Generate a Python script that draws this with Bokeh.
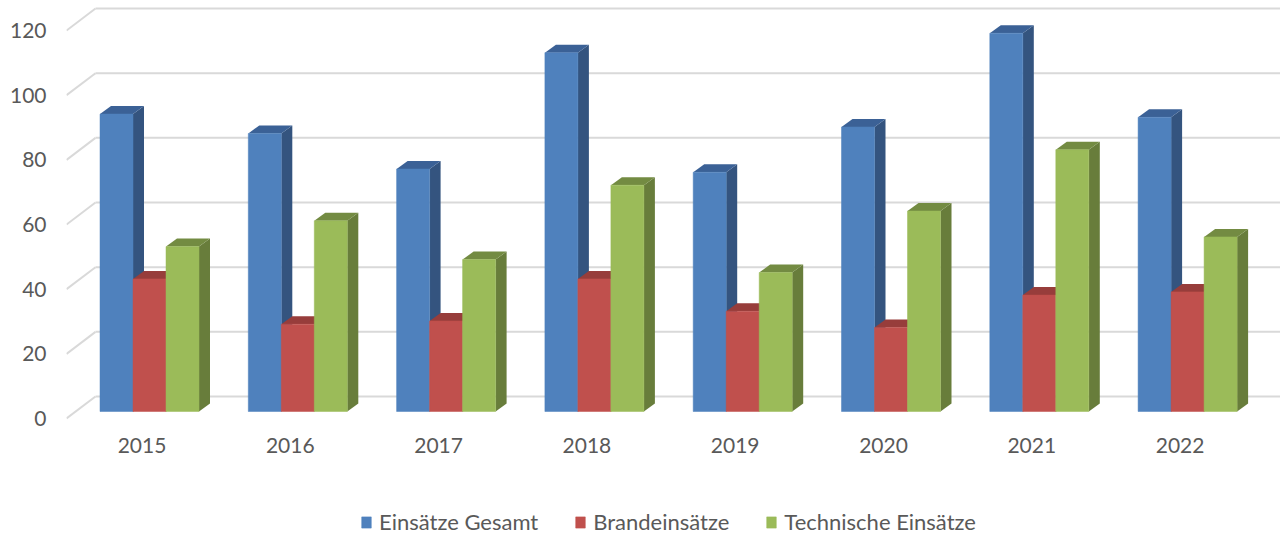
from bokeh.plotting import figure
from bokeh.models import Range1d, FixedTicker, NumeralTickFormatter, Legend, LegendItem, ColumnDataSource
from bokeh.embed import file_html
from bokeh.resources import INLINE

years = [2015, 2016, 2017, 2018, 2019, 2020, 2021, 2022]
gesamt = [92, 86, 75, 111, 74, 88, 117, 91]
brand = [41, 27, 28, 41, 31, 26, 36, 37]
technisch = [51, 59, 47, 70, 43, 62, 81, 54]
y_ticks = [0, 20, 40, 60, 80, 100, 120]
series_names = ["Einsätze Gesamt", "Brandeinsätze", "Technische Einsätze"]

# pixel geometry of the oblique projection
PX_X = 148.3        # px per year
PX_Y = 3.233        # px per value unit
FRAME_L, FRAME_R, FRAME_T, FRAME_B = 66, 1280, 0, 535
LABEL0_X = 141.5    # x of the 2015 label
ZERO_Y = 418        # y of value 0 on the front plane
BAR_W = 33 / PX_X
BAR_X0 = -42 / PX_X
DX = 11 / PX_X
DY = 8 / PX_Y
BASE = 7 / PX_Y
WALL_DX = 29 / PX_X
WALL_DY = 22 / PX_Y

x_start = 2015 + (FRAME_L - LABEL0_X) / PX_X
x_end = 2015 + (FRAME_R - LABEL0_X) / PX_X
y_top = (ZERO_Y - FRAME_T) / PX_Y
y_bottom = (ZERO_Y - FRAME_B) / PX_Y

p = figure(width=1280, height=535, output_backend="svg", toolbar_location=None,
           x_range=Range1d(x_start, x_end), y_range=Range1d(y_bottom, y_top),
           min_border_left=66, min_border_right=0, min_border_top=0, min_border_bottom=0,
           outline_line_color=None, background_fill_color="white", border_fill_color="white")
p.grid.visible = False

TEXT = "#595959"
FONT = "Lato"
for ax in (p.xaxis[0], p.yaxis[0]):
    ax.axis_line_color = None
    ax.major_tick_line_color = None
    ax.minor_tick_line_color = None
    ax.major_tick_out = 0
    ax.major_tick_in = 0
    ax.minor_tick_out = 0
    ax.minor_tick_in = 0
    ax.major_label_text_color = TEXT
    ax.major_label_text_font = FONT
    ax.major_label_text_font_size = "21px"
    ax.formatter = NumeralTickFormatter(format="0")
p.xaxis[0].ticker = FixedTicker(ticks=years)
p.yaxis[0].ticker = FixedTicker(ticks=y_ticks)
p.xaxis[0].fixed_location = -BASE
p.xaxis[0].major_label_standoff = 12
p.yaxis[0].major_label_standoff = 20

# back wall grid
GRID = "#d9d9d9"
wall_x0 = x_start + WALL_DX
p.segment(x0=[wall_x0] * len(y_ticks), x1=[x_end] * len(y_ticks),
          y0=[v + WALL_DY for v in y_ticks], y1=[v + WALL_DY for v in y_ticks],
          line_color=GRID, line_width=2)
p.segment(x0=[x_start] * len(y_ticks), x1=[wall_x0] * len(y_ticks),
          y0=y_ticks, y1=[v + WALL_DY for v in y_ticks],
          line_color=GRID, line_width=2)

colors = [("#4f81bd", "#34547f", "#3b6196"),
          ("#c0504d", "#8e3a38", "#973d3b"),
          ("#9bbb59", "#687d3b", "#738b42")]
items = []
for s, (vals, name, (front, side, top)) in enumerate(zip([gesamt, brand, technisch], series_names, colors)):
    left = [y + BAR_X0 + s * BAR_W for y in years]
    right = [l + BAR_W for l in left]
    side_xs = [[r, r + DX, r + DX, r] for r in right]
    side_ys = [[BASE, BASE + DY, v + BASE + DY, v + BASE] for v in vals]
    top_xs = [[l, l + DX, r + DX, r] for l, r in zip(left, right)]
    top_ys = [[v + BASE, v + BASE + DY, v + BASE + DY, v + BASE] for v in vals]
    p.patches(side_xs, side_ys, fill_color=side, line_color=None)
    p.patches(top_xs, top_ys, fill_color=top, line_color=None)
    src = ColumnDataSource(dict(left=left, right=right, top=[v + BASE for v in vals], bottom=[BASE] * len(vals)))
    r = p.quad(left="left", right="right", top="top", bottom="bottom", source=src,
               fill_color=front, line_color=front, line_width=0.5)
    items.append(LegendItem(label=name, renderers=[r]))

legend = Legend(items=items, orientation="horizontal", location=(294, 0),
                background_fill_alpha=0, border_line_color=None, margin=0, padding=0,
                glyph_width=12, glyph_height=14, label_standoff=7, spacing=36,
                label_text_font=FONT, label_text_font_size="22px", label_text_color=TEXT)
p.add_layout(legend)

open("out.html", "w").write(file_html(p, INLINE))
